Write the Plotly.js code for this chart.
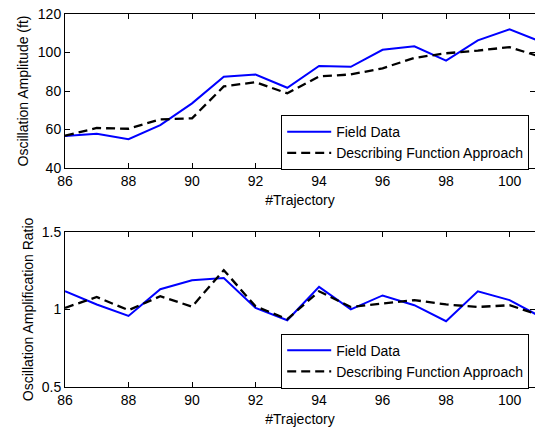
<!DOCTYPE html>
<html><head><meta charset="utf-8">
<script src="https://cdn.plot.ly/plotly-3.0.1.min.js"></script>
<style>body{margin:0;padding:0;background:#fff}#chart{width:535px;height:427px}</style>
</head><body><div id="chart"></div>
<script>
const trajectory = [86,87,88,89,90,91,92,93,94,95,96,97,98,99,100,101];
const ampField = [56.6,57.8,55.0,62.3,73.6,87.4,88.6,81.7,93.0,92.6,101.4,103.2,95.8,106.3,112.0,105.5];
const ampDF    = [56.8,60.8,60.4,65.3,65.8,82.4,84.6,78.8,87.6,88.6,91.8,97.2,99.6,101.0,102.8,97.6];
const ratioField = [1.117,1.032,0.958,1.13,1.188,1.203,1.01,0.93,1.145,1.0,1.09,1.027,0.924,1.117,1.06,0.95];
const ratioDF    = [1.01,1.08,0.995,1.085,1.018,1.253,1.02,0.937,1.117,1.016,1.038,1.06,1.032,1.016,1.027,0.96];
const xTicks = [86,88,90,92,94,96,98,100];
const seriesNames = ['Field Data','Describing Function Approach'];

const blue = {color:'#0000ff', width:2};
const black = {color:'#000000', width:2.3, dash:'9px,5px'};
const traces = [
  {x:trajectory, y:ampField, name:seriesNames[0], type:'scatter', mode:'lines', line:blue, xaxis:'x', yaxis:'y', legend:'legend'},
  {x:trajectory, y:ampDF, name:seriesNames[1], type:'scatter', mode:'lines', line:black, xaxis:'x', yaxis:'y', legend:'legend'},
  {x:trajectory, y:ratioField, name:seriesNames[0], type:'scatter', mode:'lines', line:blue, xaxis:'x2', yaxis:'y2', legend:'legend2'},
  {x:trajectory, y:ratioDF, name:seriesNames[1], type:'scatter', mode:'lines', line:black, xaxis:'x2', yaxis:'y2', legend:'legend2'}
];
const font = {family:'Liberation Sans, Arial, sans-serif', size:14, color:'#000'};
const tf = {family:'Liberation Sans, Arial, sans-serif', size:14, color:'#000'};
const axBase = {showline:true, linecolor:'#000', linewidth:1, mirror:'ticks', ticks:'inside', ticklen:5, tickcolor:'#000', showgrid:false, zeroline:false, tickfont:{size:14}};
const legBase = {bgcolor:'#fff', bordercolor:'#000', borderwidth:1, font:{size:14}, itemwidth:44, xanchor:'left', yanchor:'top', tracegroupgap:0};
const layout = {
  width:535, height:427,
  margin:{l:65, r:0, t:14, b:40},
  paper_bgcolor:'#fff', plot_bgcolor:'#fff',
  font:font, showlegend:true,
  xaxis: Object.assign({}, axBase, {domain:[0,1], anchor:'y', range:[86,100.8], tickvals:xTicks, title:{text:'#Trajectory', standoff:7, font:tf}}),
  yaxis: Object.assign({}, axBase, {domain:[0.587,1], anchor:'x', range:[40,120], tickvals:[40,60,80,100,120], title:{text:'Oscillation Amplitude (ft)', standoff:5, font:tf}}),
  xaxis2: Object.assign({}, axBase, {domain:[0,1], anchor:'y2', range:[86,100.8], tickvals:xTicks, title:{text:'#Trajectory', standoff:7, font:tf}}),
  yaxis2: Object.assign({}, axBase, {domain:[0,0.416], anchor:'x2', range:[0.5,1.5], tickvals:[0.5,1,1.5], title:{text:'Oscillation Amplification Ratio', standoff:4, font:tf}}),
  legend: Object.assign({}, legBase, {x:0.46, y:0.729}),
  legend2: Object.assign({}, legBase, {x:0.46, y:0.143})
};
Plotly.newPlot('chart', traces, layout, {displayModeBar:false, staticPlot:true});
</script></body></html>
